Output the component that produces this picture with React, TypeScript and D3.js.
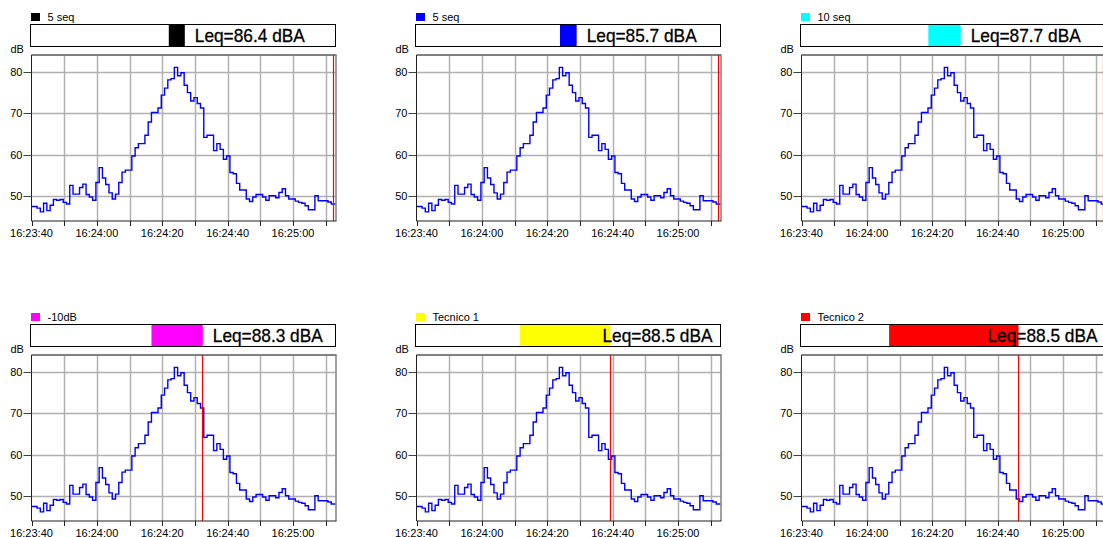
import { useEffect, useRef } from 'react';
import * as d3 from 'd3';

// 1 s levels (dB), first sample starts 0.3 s before 16:23:40
const levels = [
  47.5, 47.5, 47.1, 46.2, 48.3, 46.5, 47.8, 49.2, 49.0, 49.2, 48.5,
  48.1, 52.6, 50.5, 50.5, 52.1, 52.9, 50.4, 49.8, 49.0, 53.3,
  56.9, 54.4, 52.8, 50.8, 49.3, 50.5, 53.3, 55.8, 56.3, 56.3,
  59.7, 61.7, 62.7, 62.7, 64.7, 67.9, 70.2, 70.2, 71.3, 74.4,
  76.1, 78.1, 78.4, 81.1, 79.1, 79.8, 76.8, 75.0, 73.0, 73.8,
  72.4, 71.3, 64.2, 64.7, 64.7, 61.0, 62.7, 61.3, 58.9, 59.7,
  55.7, 55.4, 53.1, 51.5, 51.5, 49.3, 48.7, 49.8, 50.4, 50.4,
  49.8, 49.0, 50.1, 50.1, 49.6, 50.9, 51.8, 50.1, 49.3, 49.3,
  48.8, 48.5, 48.3, 47.7, 46.7, 46.7, 50.1, 48.9, 48.9, 48.9,
  48.6, 48.1, 48.1,
];
const firstSampleSec = -0.3;
const windowSec = 93;

const panelLabels = ['5 seq', '5 seq', '10 seq', '-10dB', 'Tecnico 1', 'Tecnico 2'];
const panelColors = ['#000000', '#0000ff', '#00ffff', '#ff00ff', '#ffff00', '#ff0000'];
const leqValues = [86.4, 85.7, 87.7, 88.3, 88.5, 88.5];
// selected range and cursor, seconds after 16:23:40
const rangeStart = [42.0, 43.9, 38.8, 36.7, 31.6, 26.8];
const rangeEnd = [46.9, 49.0, 48.7, 52.4, 59.3, 66.4];
const cursorSec = [92.3, 92.3, 92.3, 52.3, 59.3, 66.4];

const yTicks = [50, 60, 70, 80];
const yDomain = [44, 84.1];

const t0 = new Date(2000, 0, 1, 16, 23, 40);
const atSec = (s: number) => new Date(t0.getTime() + s * 1000);

export default function App() {
  const svgRef = useRef<SVGSVGElement>(null);

  useEffect(() => {
    if (!svgRef.current) return;
    const width = 1103;
    const height = 537;
    const svg = d3.select(svgRef.current).attr('width', width).attr('height', height);
    svg.selectAll('*').remove();

    const left = 31.5, right = 335.5, top = 55, bottom = 221;
    const x = d3.scaleTime().domain([t0, atSec(windowSec)]).range([left, right]);
    const y = d3.scaleLinear().domain(yDomain).range([bottom, top]);

    const pts = levels.map((v, i) => ({ t: atSec(firstSampleSec + i), v }));
    pts.push({ t: atSec(windowSec), v: levels[levels.length - 1] });

    const line = d3.line<{ t: Date; v: number }>()
      .x(d => x(d.t))
      .y(d => y(d.v))
      .curve(d3.curveStepAfter);

    const gridTimes = d3.range(10, windowSec, 10).map(atSec);
    const tickTimes = d3.range(0, windowSec, 10).map(atSec);
    const labelTimes = d3.range(0, windowSec, 20).map(atSec);
    const fmt = d3.timeFormat('%H:%M:%S');

    svg.append('defs').append('clipPath').attr('id', 'plotclip')
      .append('rect').attr('x', left).attr('y', top).attr('width', right - left).attr('height', bottom - top);

    panelLabels.forEach((label, p) => {
      const col = p % 3;
      const row = Math.floor(p / 3);
      const g = svg.append('g')
        .attr('transform', `translate(${col * 385},${row * 300})`)
        .style('font-family', '"Liberation Sans", Arial, sans-serif');

      // legend
      g.append('rect').attr('x', 31).attr('y', 13).attr('width', 9).attr('height', 8)
        .attr('fill', panelColors[p]);
      g.append('text').attr('x', 47.5).attr('y', 21).attr('font-size', 11).attr('fill', '#000')
        .text(label);

      // Leq bar
      g.append('rect').attr('x', 30.5).attr('y', 24.5).attr('width', 305).attr('height', 22)
        .attr('fill', '#fff').attr('stroke', '#000');
      const xs = x(atSec(rangeStart[p]));
      const xe = x(atSec(rangeEnd[p]));
      g.append('rect').attr('x', xs).attr('y', 25).attr('width', xe - xs).attr('height', 21)
        .attr('fill', panelColors[p]);
      g.append('text')
        .attr('x', Math.min(xe + 10, 30.5 + 187))
        .attr('y', 42)
        .attr('font-size', 18.5)
        .attr('textLength', 110)
        .attr('lengthAdjust', 'spacingAndGlyphs')
        .attr('stroke', '#000').attr('stroke-width', 0.3)
        .attr('fill', '#000')
        .text(`Leq=${leqValues[p].toFixed(1)} dBA`);

      g.append('text').attr('x', 10.5).attr('y', 52.5).attr('font-size', 11).text('dB');

      // grid
      g.append('g').selectAll('line').data(yTicks).join('line')
        .attr('x1', left).attr('x2', right)
        .attr('y1', d => Math.round(y(d)) + 0.5).attr('y2', d => Math.round(y(d)) + 0.5)
        .attr('stroke', '#b0b0b0').attr('stroke-width', 1.5);
      g.append('g').selectAll('line').data(gridTimes).join('line')
        .attr('x1', d => Math.round(x(d)) + 0.5).attr('x2', d => Math.round(x(d)) + 0.5)
        .attr('y1', top).attr('y2', bottom)
        .attr('stroke', '#b0b0b0').attr('stroke-width', 1.5);

      // frame
      g.append('line').attr('x1', left).attr('x2', right + 1).attr('y1', top).attr('y2', top)
        .attr('stroke', '#808080').attr('stroke-width', 2);
      g.append('line').attr('x1', right + 0.5).attr('x2', right + 0.5).attr('y1', top).attr('y2', bottom)
        .attr('stroke', '#808080').attr('stroke-width', 1.5);

      // series
      g.append('path').datum(pts)
        .attr('clip-path', 'url(#plotclip)')
        .attr('fill', 'none').attr('stroke', '#0000ff').attr('stroke-width', 1.4)
        .attr('d', line);

      // cursor
      const cx = Math.floor(x(atSec(cursorSec[p]))) + 0.5;
      g.append('line').attr('x1', cx).attr('x2', cx).attr('y1', top).attr('y2', bottom)
        .attr('stroke', '#ff0000').attr('stroke-width', 1.2);

      // axes
      g.append('line').attr('x1', left).attr('x2', left).attr('y1', top).attr('y2', bottom)
        .attr('stroke', '#202020');
      g.append('line').attr('x1', left).attr('x2', right + 1).attr('y1', bottom).attr('y2', bottom)
        .attr('stroke', '#202020');

      g.append('g').selectAll('line').data(yTicks).join('line')
        .attr('x1', 23.5).attr('x2', left)
        .attr('y1', d => Math.round(y(d)) + 0.5).attr('y2', d => Math.round(y(d)) + 0.5)
        .attr('stroke', '#404040');
      g.append('g').selectAll('text').data(yTicks).join('text')
        .attr('x', 22.5).attr('y', d => y(d) + 4)
        .attr('text-anchor', 'end').attr('font-size', 11)
        .text(d => d);

      g.append('g').selectAll('line').data(tickTimes).join('line')
        .attr('x1', d => Math.round(x(d)) + 0.5).attr('x2', d => Math.round(x(d)) + 0.5)
        .attr('y1', bottom).attr('y2', bottom + 5)
        .attr('stroke', '#202020');
      g.append('g').selectAll('text').data(labelTimes).join('text')
        .attr('x', d => x(d)).attr('y', 236.5)
        .attr('text-anchor', 'middle').attr('font-size', 11)
        .text(d => fmt(d));
    });
  }, []);

  return (
    <svg
      ref={svgRef}
      style={{ position: 'absolute', left: 0, top: 0, background: '#fff', display: 'block' }}
    />
  );
}
